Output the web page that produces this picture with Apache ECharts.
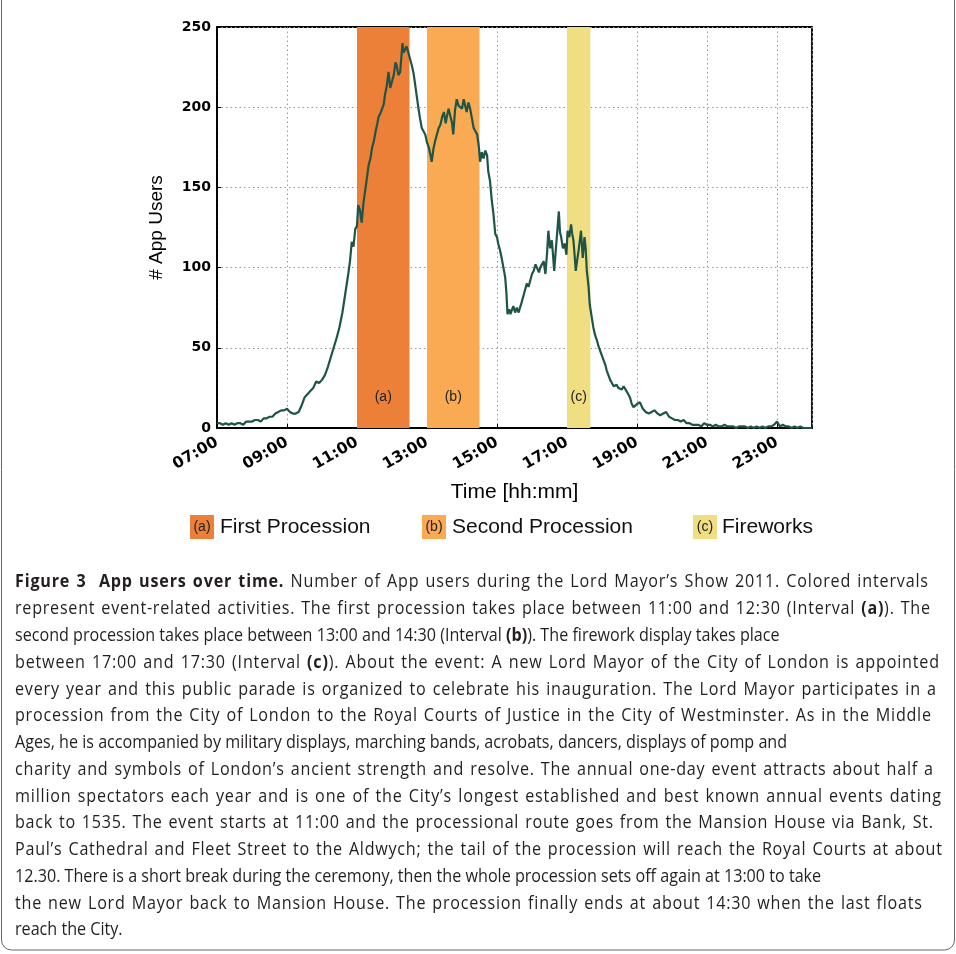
<!DOCTYPE html>
<html><head><meta charset="utf-8">
<script src="https://cdn.jsdelivr.net/npm/echarts/dist/echarts.min.js"></script>
<style>html,body{margin:0;padding:0;background:#fff}#c{width:956px;height:954px}</style>
</head><body><div id="c"></div>
<script>
// ---- DATA ----
// minutes after 07:00
const timeMinutes = [
0,5,10,15,20,25,30,35,40,45,
50,55,60,65,70,75,80,85,90,95,
100,105,110,115,120,125,130,135,140,145,
150,155,160,165,170,175,180,185,190,195,
200,205,210,215,220,225,228,231,234,237,
240,242,245,248,251,254,257,260,263,266,
269,272,275,277,280,283,286,288,291,294,
297,300,303,306,308,311,314,316,318,320,
322,325,328,331,334,337,339,342,345,348,
351,354,357,360,363,366,368,371,374,377,
380,383,386,389,392,394,397,400,403,405,
408,411,414,417,420,423,426,428,431,434,
437,440,443,446,449,451,454,457,460,463,
465,468,471,474,477,480,482,485,488,491,
494,496,498,501,503,505,508,511,514,517,
519,522,525,528,531,534,537,540,543,546,
549,552,554,557,560,563,566,568,571,574,
576,578,581,583,586,588,590,593,596,599,
601,604,607,609,611,613,615,618,620,622,
624,627,630,632,634,637,639,642,645,648,
651,654,657,660,663,666,668,671,674,677,
680,682,685,688,691,694,697,699,702,705,
708,711,714,717,720,725,730,735,740,745,
750,755,760,765,770,775,780,785,790,795,
800,805,810,815,820,825,830,835,840,845,
850,855,860,865,870,875,880,885,890,895,
900,905,910,915,920,925,930,935,940,945,
950,955,960,965,970,975,980,985,990,995,
1000,1005,1010,1015,1020];
const appUsers = [
3,3,2,3,2,3,2,3,3,2,
4,4,4,5,5,4,6,6,7,7,
9,10,11,11,12,10,9,9,10,14,
19,21,23,25,29,28,30,33,38,44,
50,56,63,72,84,96,104,116,113,124,
126,139,136,128,140,148,156,164,168,175,
179,185,190,194,196,195,202,208,213,222,
212,216,220,228,226,220,222,231,240,234,
233,238,237,230,226,221,216,208,200,193,
187,185,183,178,175,170,166,174,179,183,
187,189,194,197,190,194,199,198,190,183,
198,205,201,202,199,205,200,197,203,199,
193,187,185,183,175,166,172,168,173,170,
160,154,142,133,121,119,115,111,106,100,
94,85,71,74,71,73,76,72,75,72,
73,78,82,86,90,88,92,96,98,102,
101,97,100,99,104,96,110,123,112,117,
108,98,112,121,135,122,119,112,115,108,
123,119,127,121,117,108,98,106,111,117,
123,106,119,112,98,88,77,70,63,58,
55,51,48,45,42,39,36,33,30,28,
26,26,27,25,26,24,26,25,23,21,
19,15,13,12,15,16,12,10,9,10,
11,9,8,9,10,7,6,5,5,4,
5,3,3,2,2,2,1,3,2,2,
1,2,1,1,2,1,1,1,0,1,
1,1,0,1,0,1,0,1,0,1,
1,2,4,1,2,1,1,0,1,0,
1,0,0,0,0];
const bandStart = [240, 360, 600];
const bandEnd = [330, 450, 640];
const bandLabels = ['(a)', '(b)', '(c)'];
const legendNames = ['First Procession', 'Second Procession', 'Fireworks'];
const xAxisTitle = 'Time [hh:mm]';
const yAxisTitle = '# App Users';
const captionLines = [
 [['b','Figure 3  App users over time.'],['n',' Number of App users during the Lord Mayor\u2019s Show 2011. Colored intervals']],
 [['n','represent event-related activities. The first procession takes place between 11:00 and 12:30 (Interval '],['b','(a)'],['n','). The']],
 [['n','second procession takes place between 13:00 and 14:30 (Interval '],['b','(b)'],['n','). The firework display takes place']],
 [['n','between 17:00 and 17:30 (Interval '],['b','(c)'],['n','). About the event: A new Lord Mayor of the City of London is appointed']],
 [['n','every year and this public parade is organized to celebrate his inauguration. The Lord Mayor participates in a']],
 [['n','procession from the City of London to the Royal Courts of Justice in the City of Westminster. As in the Middle']],
 [['n','Ages, he is accompanied by military displays, marching bands, acrobats, dancers, displays of pomp and']],
 [['n','charity and symbols of London\u2019s ancient strength and resolve. The annual one-day event attracts about half a']],
 [['n','million spectators each year and is one of the City\u2019s longest established and best known annual events dating']],
 [['n','back to 1535. The event starts at 11:00 and the processional route goes from the Mansion House via Bank, St.']],
 [['n','Paul\u2019s Cathedral and Fleet Street to the Aldwych; the tail of the procession will reach the Royal Courts at about']],
 [['n','12.30. There is a short break during the ceremony, then the whole procession sets off again at 13:00 to take']],
 [['n','the new Lord Mayor back to Mansion House. The procession finally ends at about 14:30 when the last floats']],
 [['n','reach the City.']]
];

// ---- LAYOUT / STYLE ----
const bandColors = ['#ED8039', '#F9AA52', '#F0DF82'];
const captionRight = [928,930,764,939,936,931,803,933,941,933,942,821,922,135];
const captionJustify = [1,1,0,1,1,1,0,1,1,1,1,0,1,0];
const CAP_LEFT = 15, CAP_TOP = 582.5, CAP_STEP = 26.77, CAP_SIZE = 17.5, CAP_FONT = '"Open Sans"';
const legendBoxX = [190, 422, 693];
const legendTextX = [220, 452, 722];

const chart = echarts.init(document.getElementById('c'), null, {renderer: 'canvas'});

function fmt(m) {
  const h = 7 + Math.floor(m / 60), mm = m % 60;
  return (h < 10 ? '0' : '') + h + ':' + (mm < 10 ? '0' : '') + mm;
}

const seriesData = timeMinutes.map((t, i) => [t, appUsers[i]]);
const areas = bandStart.map((s, i) => [
  {xAxis: s, name: bandLabels[i], itemStyle: {color: bandColors[i], opacity: 1}},
  {xAxis: bandEnd[i]}
]);

const cv = document.createElement('canvas').getContext('2d');
function segW(txt, bold) {
  cv.font = (bold ? 'bold ' : '') + CAP_SIZE + 'px ' + CAP_FONT;
  return cv.measureText(txt).width;
}
const lineChars = captionLines.map(segs => {
  const out = [];
  segs.forEach(([st, txt]) => { for (const ch of txt) out.push([st === 'b', ch]); });
  return out;
});
const lineAdv = lineChars.map(cs => cs.map(c => segW(c[1], c[0])));
let sSum = 0, sN = 0;
captionJustify.forEach((j, i) => {
  if (j || i === captionLines.length - 1) return;
  const nat = lineAdv[i].reduce((a, b) => a + b, 0);
  sSum += (captionRight[i] - CAP_LEFT) / nat; sN++;
});
const S = sSum / sN;

const graphics = [];
graphics.push({type: 'rect', shape: {x: 1.5, y: -20, width: 953, height: 970, r: 10},
  style: {fill: 'none', stroke: '#666', lineWidth: 1}, z: 10});
legendNames.forEach((n, i) => {
  graphics.push({type: 'rect', shape: {x: legendBoxX[i], y: 515, width: 24, height: 24},
    style: {fill: bandColors[i]}});
  graphics.push({type: 'text', x: legendBoxX[i] + 12, y: 527,
    style: {text: bandLabels[i], fontSize: 14, fontFamily: '"Liberation Sans", Arial', fill: '#222',
      align: 'center', verticalAlign: 'middle'}});
  graphics.push({type: 'text', x: legendTextX[i], y: 527,
    style: {text: n, fontSize: 21, fontFamily: '"Liberation Sans", Arial', fill: '#111',
      align: 'left', verticalAlign: 'middle'}});
});
lineChars.forEach((cs, i) => {
  const adv = lineAdv[i];
  const nat = adv.reduce((a, b) => a + b, 0) * S;
  const nSp = cs.filter(c => c[1] === ' ').length;
  const e = captionJustify[i] ? (captionRight[i] - CAP_LEFT - nat) / ((cs.length - 1) + 1.5 * nSp) : 0;
  let x = CAP_LEFT;
  cs.forEach((c, k) => {
    if (c[1] !== ' ') {
      graphics.push({type: 'text', x: x, y: CAP_TOP + i * CAP_STEP, scaleX: S, silent: true,
        style: {text: c[1], align: 'left', verticalAlign: 'middle', fontSize: CAP_SIZE,
          fontFamily: CAP_FONT, fontWeight: c[0] ? 'bold' : 'normal', fill: '#231f20'}});
    }
    x += adv[k] * S + e + (c[1] === ' ' ? 1.5 * e : 0);
  });
});

const tickFontY = {fontFamily: '"DejaVu Sans"', fontWeight: 'bold', fontSize: 14, color: '#000'};
const tickFontX = {fontFamily: '"DejaVu Sans"', fontWeight: 'bold', fontSize: 15.5, color: '#000'};

chart.setOption({
  animation: false,
  backgroundColor: '#fff',
  grid: {left: 217, top: 27, width: 595, height: 401, show: true, borderColor: '#000', borderWidth: 1.8,
    backgroundColor: 'transparent', containLabel: false, outerBoundsMode: 'none'},
  xAxis: {
    type: 'value', min: 0, max: 1020, interval: 120,
    name: xAxisTitle, nameLocation: 'middle', nameGap: 54,
    nameTextStyle: {fontFamily: '"Liberation Sans", Arial', fontSize: 21, color: '#000'},
    axisLine: {show: true, lineStyle: {color: '#000', width: 1.8}},
    axisTick: {show: true, inside: true, length: 4, lineStyle: {color: '#000'}},
    axisLabel: Object.assign({rotate: 30, margin: 13, showMaxLabel: false,
      formatter: v => v >= 1020 ? '' : fmt(v)}, tickFontX),
    splitLine: {show: true, lineStyle: {color: '#999', width: 1, type: [1.5, 3]}}
  },
  yAxis: {
    type: 'value', min: 0, max: 250, interval: 50,
    name: yAxisTitle, nameLocation: 'middle', nameGap: 51, nameRotate: 90,
    nameTextStyle: {fontFamily: '"Liberation Sans", Arial', fontSize: 19, color: '#000'},
    axisLine: {show: true, lineStyle: {color: '#000', width: 1.8}},
    axisTick: {show: true, inside: true, length: 4, lineStyle: {color: '#000'}},
    axisLabel: Object.assign({margin: 6}, tickFontY),
    splitLine: {show: true, lineStyle: {color: '#999', width: 1, type: [1.5, 3]}}
  },
  series: [{
    type: 'line', data: seriesData, showSymbol: false, symbol: 'none',
    lineStyle: {color: '#1f5547', width: 2.2}, z: 3,
    markArea: {
      silent: true, z: 1,
      label: {show: true, position: 'insideBottom', distance: 24, color: '#222', fontSize: 14,
        fontFamily: '"Liberation Sans", Arial', formatter: p => p.name},
      data: areas
    }
  }],
  graphic: graphics
});
</script></body></html>
